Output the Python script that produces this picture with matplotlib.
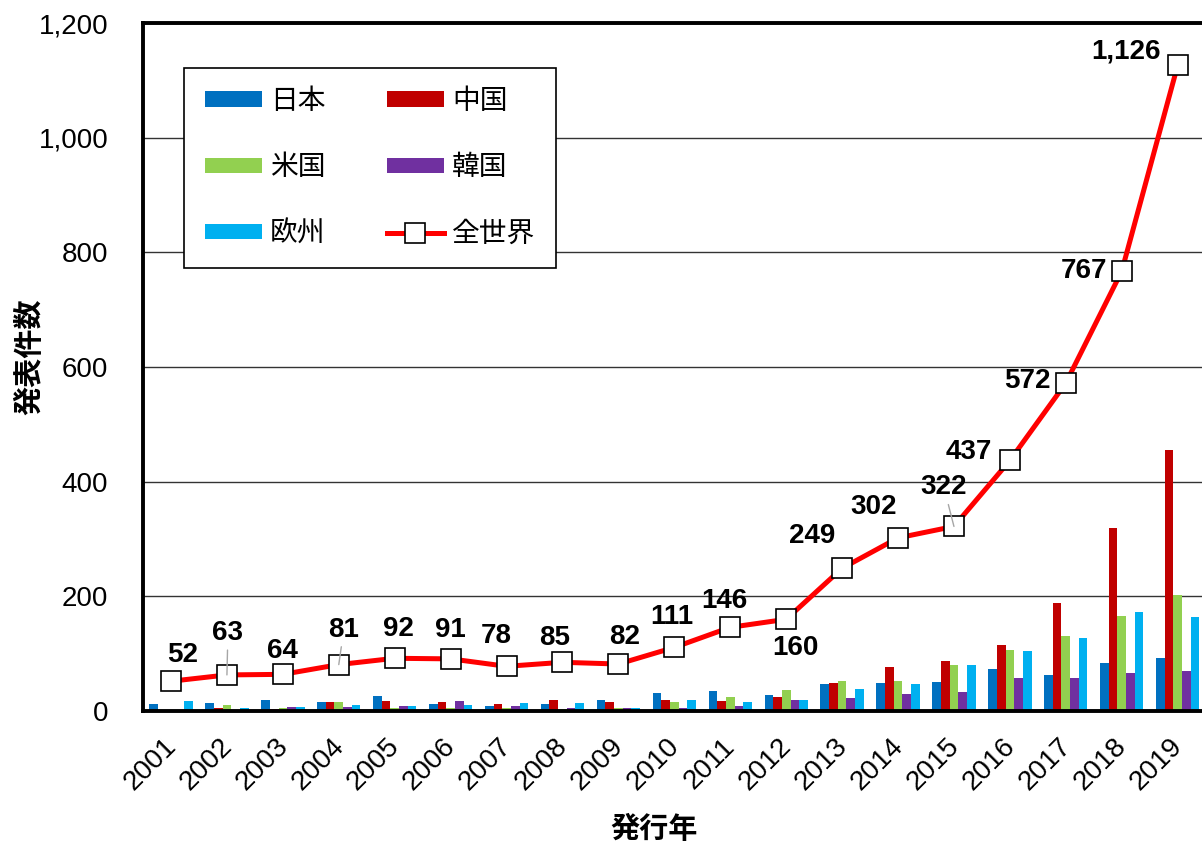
"""Publications per year by region (2001-2019): grouped bars + world total line."""

import matplotlib
matplotlib.use("Agg")
import matplotlib.pyplot as plt
import numpy as np
from matplotlib.transforms import ScaledTranslation
from matplotlib.ticker import FuncFormatter

plt.rcParams["font.family"] = ["Liberation Sans", "Noto Sans CJK JP", "DejaVu Sans"]

years = [str(y) for y in range(2001, 2020)]
japan = [12, 14, 19, 15, 27, 13, 8, 13, 20, 32, 35, 28, 48, 49, 50, 74, 62, 83, 93]
china = [1, 5, 4, 15, 17, 15, 12, 20, 15, 19, 18, 24, 49, 76, 87, 115, 189, 320, 456]
usa = [2, 10, 6, 15, 5, 6, 5, 3, 6, 16, 24, 36, 52, 52, 80, 106, 131, 166, 202]
korea = [2, 1, 7, 7, 8, 18, 9, 6, 6, 6, 8, 20, 23, 30, 34, 57, 57, 66, 69]
europe = [17, 6, 7, 10, 8, 10, 14, 14, 6, 19, 15, 19, 38, 48, 80, 104, 127, 173, 164]
world = [52, 63, 64, 81, 92, 91, 78, 85, 82, 111, 146, 160, 249, 302, 322, 437,
         572, 767, 1126]

series = [
    ("日本", japan, "#0070C0"),
    ("中国", china, "#C00000"),
    ("米国", usa, "#92D050"),
    ("韓国", korea, "#7030A0"),
    ("欧州", europe, "#00B0F0"),
]

# label offsets from each marker, in pixels (dx, dy up)
label_off = [(12, 26), (1, 42), (0, 23), (5, 35), (4, 29), (0, 29), (-10, 30),
             (-8, 24), (6, 27), (-3, 30), (-6, 26), (9, -29), (-30, 32),
             (-24, 31), (-10, 39), (-41, 8), (-38, 2), (-38, 0), (-52, 14)]
leader = {1, 3, 14}

fig = plt.figure(figsize=(12.02, 8.49), dpi=100)
ax = fig.add_axes([0.119, 0.1625, 0.884, 0.8104])

x = np.arange(len(years))
w = 0.155
handles = {}
for k, (name, vals, col) in enumerate(series):
    handles[name] = ax.bar(x + (k - 2) * w, vals, w, color=col, label=name, zorder=2)

line, = ax.plot(x, world, color="#FF0000", lw=3.6, marker="s", ms=14,
                mfc="white", mec="black", mew=1.2, label="全世界", zorder=4)
handles["全世界"] = line

for i, v in enumerate(world):
    dx, dy = label_off[i]
    lab = f"{v:,}"
    kw = {}
    if i in leader:
        kw["arrowprops"] = dict(arrowstyle="-", color="#A6A6A6", lw=1.0,
                                shrinkA=1, shrinkB=0)
    ax.annotate(lab, (i, v), xytext=(dx, dy), textcoords="offset pixels",
                ha="center", va="center", fontsize=20, fontweight="bold",
                zorder=5, **kw)

ax.set_xlim(-0.5, len(years) - 0.5)
ax.set_ylim(0, 1200)
ax.set_yticks(range(0, 1201, 200))
ax.yaxis.set_major_formatter(FuncFormatter(lambda v, p: f"{int(v):,}"))
ax.set_xticks(x)
ax.set_xticklabels(years, rotation=45, ha="right", rotation_mode="anchor")
ax.tick_params(axis="y", length=0, pad=25, labelsize=20)
ax.tick_params(axis="x", length=0, pad=16, labelsize=20)
shift = ScaledTranslation(-0.08, 0, fig.dpi_scale_trans)
for lbl in ax.get_xticklabels():
    lbl.set_transform(lbl.get_transform() + shift)

ax.grid(axis="y", color="#333333", lw=1.0, zorder=0)
ax.set_axisbelow(True)
for side in ("left", "bottom", "top"):
    ax.spines[side].set_linewidth(2.8)
    ax.spines[side].set_color("black")
ax.spines["right"].set_visible(False)

order = ["日本", "米国", "欧州", "中国", "韓国", "全世界"]
leg = ax.legend([handles[n] for n in order], order, ncol=2, fontsize=20,
                loc="upper left", bbox_to_anchor=(184 / 1202, 1 - 68 / 849),
                bbox_transform=fig.transFigure, borderaxespad=0,
                handlelength=2.05, handleheight=0.47, handletextpad=0.3,
                labelspacing=1.45, columnspacing=2.2, borderpad=0.75,
                fancybox=False, framealpha=1, edgecolor="black")
leg.get_frame().set_linewidth(1.2)
leg.set_zorder(6)

fig.text(30 / 1202, 1 - 357 / 849, "発表件数", rotation=90, ha="center",
         va="center", fontsize=21, fontweight="bold")
fig.text(654 / 1202, 1 - 830 / 849, "発行年", ha="center", va="center",
         fontsize=21, fontweight="bold")

fig.savefig("out.png", dpi=100)
